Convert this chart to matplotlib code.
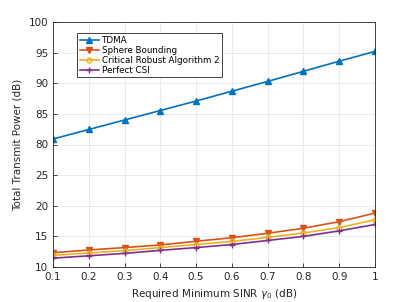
import numpy as np
import matplotlib
matplotlib.use('Agg')
import matplotlib.pyplot as plt

# data
sinr = [0.1, 0.2, 0.3, 0.4, 0.5, 0.6, 0.7, 0.8, 0.9, 1.0]
tdma = [80.9, 82.45, 84.0, 85.55, 87.1, 88.7, 90.3, 91.95, 93.6, 95.2]
sphere = [12.33, 12.78, 13.17, 13.6, 14.2, 14.78, 15.5, 16.33, 17.4, 18.8]
critical = [11.9, 12.28, 12.67, 13.17, 13.67, 14.17, 14.83, 15.56, 16.44, 17.7]
perfect = [11.44, 11.83, 12.22, 12.72, 13.17, 13.67, 14.33, 15.0, 15.9, 16.94]
yticks = [10, 15, 20, 25, 80, 85, 90, 95, 100]


# broken y axis: 10..25 and 80..100, one tick step each 5 dB
def fwd(v):
    v = np.asarray(v, dtype=float)
    return np.where(v <= 52.5, (v - 10) / 5, (v - 80) / 5 + 4)


def inv(p):
    p = np.asarray(p, dtype=float)
    return np.where(p <= 3.5, p * 5 + 10, (p - 4) * 5 + 80)


plt.rcParams['font.family'] = 'DejaVu Sans'
plt.rcParams['font.size'] = 7.5

fig = plt.figure(figsize=(4.15, 3.02), dpi=100)
ax = fig.add_axes([53 / 415, 1 - 267 / 302, 322 / 415, 245 / 302])
ax.set_yscale('function', functions=(fwd, inv))

ax.plot(sinr, tdma, color='#0072BD', marker='^', ms=5, lw=1.2, label='TDMA')
ax.plot(sinr, sphere, color='#D95319', marker='v', ms=5, lw=1.2, label='Sphere Bounding')
ax.plot(sinr, critical, color='#EDB120', marker='o', ms=3.5, mfc='none', lw=1.2,
        label='Critical Robust Algorithm 2')
ax.plot(sinr, perfect, color='#7E2F8E', marker='+', ms=4, lw=1.2, label='Perfect CSI')

ax.set_xlim(0.1, 1)
ax.set_ylim(10, 100)
ax.set_xticks(sinr)
ax.set_xticklabels(['0.1', '0.2', '0.3', '0.4', '0.5', '0.6', '0.7', '0.8', '0.9', '1'])
ax.set_yticks(yticks)
ax.set_yticklabels([str(t) for t in yticks])
ax.yaxis.set_minor_locator(matplotlib.ticker.NullLocator())
ax.grid(True, color='#e6e6e6', lw=0.6)
ax.set_axisbelow(True)
ax.tick_params(direction='in', length=3, colors='#262626', width=0.6)
for s in ax.spines.values():
    s.set_color('#262626')
    s.set_linewidth(0.6)

ax.set_xlabel(r'Required Minimum SINR $\gamma_0$ (dB)', color='#262626')
ax.set_ylabel('Total Transmit Power (dB)', color='#262626')

leg = ax.legend(loc='upper left', bbox_to_anchor=(24 / 322, 1 - 11 / 245),
                borderaxespad=0, fancybox=False, edgecolor='#262626', framealpha=1,
                handlelength=2.2, handletextpad=0.3, borderpad=0.3,
                labelspacing=0.12, fontsize=6.3)
leg.get_frame().set_linewidth(0.6)

fig.savefig('out.png', dpi=100)
